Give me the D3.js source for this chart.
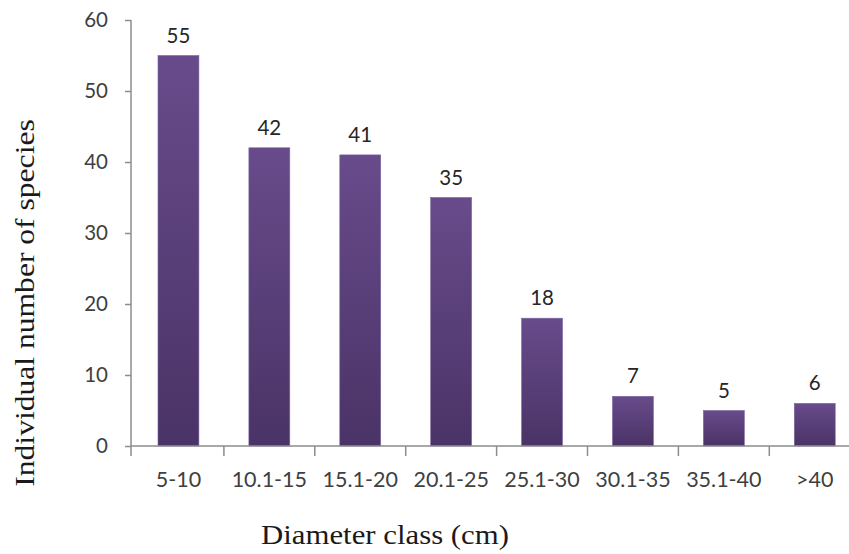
<!DOCTYPE html>
<html>
<head>
<meta charset="utf-8">
<script src="https://cdn.jsdelivr.net/npm/d3@7"></script>
<style>
  html, body { margin: 0; padding: 0; background: #fff; }
  svg { display: block; }
</style>
</head>
<body>
<svg id="chart" width="849" height="554"></svg>
<script>
// Diameter classes and number of individuals per class
const categories = ["5-10", "10.1-15", "15.1-20", "20.1-25", "25.1-30", "30.1-35", "35.1-40", ">40"];
const counts = [55, 42, 41, 35, 18, 7, 5, 6];
const yTicks = [0, 10, 20, 30, 40, 50, 60];

const svg = d3.select("#chart");
const plotLeft = 131, plotBottom = 446, plotTop = 20;
const step = 90.9;
const sans = "Lato, 'Open Sans', sans-serif";
const serif = "'Liberation Serif', 'DejaVu Serif', serif";

const x = d3.scaleBand()
  .domain(categories)
  .range([plotLeft, plotLeft + step * categories.length])
  .paddingInner(0.55)
  .paddingOuter(0.275);

const y = d3.scaleLinear().domain([0, 60]).range([plotBottom, plotTop]);

// Vertical shading for bars
const defs = svg.append("defs");
const grad = defs.append("linearGradient")
  .attr("id", "barFill").attr("x1", 0).attr("y1", 0).attr("x2", 0).attr("y2", 1);
grad.append("stop").attr("offset", "0%").attr("stop-color", "#684b8b");
grad.append("stop").attr("offset", "100%").attr("stop-color", "#4a3366");

// Bars
svg.append("g").selectAll("rect")
  .data(counts)
  .join("rect")
  .attr("x", (d, i) => x(categories[i]) + 2)
  .attr("y", d => y(d))
  .attr("width", x.bandwidth())
  .attr("height", d => plotBottom - y(d))
  .attr("fill", "url(#barFill)")
  .attr("stroke", "#7a64a0")
  .attr("stroke-width", 0.6);

// Value labels
svg.append("g").selectAll("text")
  .data(counts)
  .join("text")
  .attr("x", (d, i) => x(categories[i]) + 2 + x.bandwidth() / 2)
  .attr("y", d => y(d) - 13)
  .attr("text-anchor", "middle")
  .attr("font-family", sans)
  .attr("font-size", 20.5)
  .attr("fill", "#262626")
  .text(d => d);

// Y axis
const yAxis = svg.append("g")
  .attr("transform", `translate(${plotLeft},0)`)
  .call(d3.axisLeft(y).tickValues(yTicks).tickSize(6).tickSizeOuter(0).tickPadding(17));
yAxis.select(".domain").attr("stroke", "#8c8c8c").attr("stroke-width", 1.5)
  .attr("d", `M0,${plotTop}V${plotBottom + 10}`);
yAxis.selectAll(".tick line").attr("stroke", "#8c8c8c").attr("stroke-width", 1.5);
yAxis.selectAll(".tick text")
  .attr("font-family", sans)
  .attr("font-size", 20.5)
  .attr("fill", "#404040");

// X axis with ticks at category boundaries
const xAxisG = svg.append("g");
xAxisG.append("line")
  .attr("x1", plotLeft).attr("x2", 849)
  .attr("y1", plotBottom).attr("y2", plotBottom)
  .attr("stroke", "#8c8c8c").attr("stroke-width", 1.5);
xAxisG.selectAll("line.bound")
  .data(categories.slice(1))
  .join("line")
  .attr("class", "bound")
  .attr("x1", d => x(d) - x.step() * x.paddingInner() / 2 + 2)
  .attr("x2", d => x(d) - x.step() * x.paddingInner() / 2 + 2)
  .attr("y1", plotBottom).attr("y2", plotBottom + 10)
  .attr("stroke", "#8c8c8c").attr("stroke-width", 1.5);
xAxisG.selectAll("text")
  .data(categories)
  .join("text")
  .attr("x", d => x(d) + 2 + x.bandwidth() / 2)
  .attr("y", 487)
  .attr("text-anchor", "middle")
  .attr("font-family", sans)
  .attr("font-size", 21.5)
  .attr("fill", "#404040")
  .text(d => d);

// Axis titles
svg.append("text")
  .attr("transform", "translate(385,544) scale(1.1,1)")
  .attr("text-anchor", "middle")
  .attr("font-family", serif)
  .attr("font-size", 28)
  .attr("fill", "#1a1a1a")
  .text("Diameter class (cm)");

svg.append("text")
  .attr("transform", "translate(34,303) rotate(-90) scale(1.17,1)")
  .attr("text-anchor", "middle")
  .attr("font-family", serif)
  .attr("font-size", 27)
  .attr("fill", "#1a1a1a")
  .text("Individual number of species");
</script>
</body>
</html>
